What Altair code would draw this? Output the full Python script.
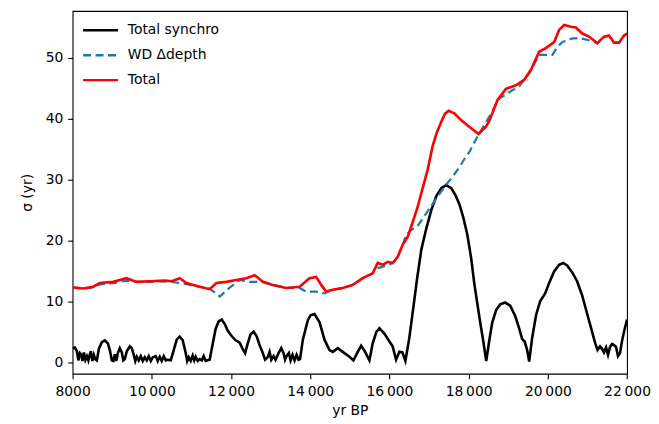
import altair as alt
import pandas as pd

# ---- data (yr BP, sigma in yr) ----
total_synchro = [
    (8000, 2.3), (8058, 2.4), (8108, 1.8), (8146, 0.3), (8184, 1.5), (8222, 1.2), (8247, 0.2),
    (8285, 1.6), (8323, 0.4), (8361, 1.0), (8398, 0.3), (8436, 1.3), (8461, 1.8), (8499, 0.2),
    (8537, 1.2), (8575, 0.5), (8613, 0.3), (8663, 2.2), (8739, 3.3), (8814, 3.6), (8890, 3.1),
    (8940, 2.0), (8991, 0.3), (9029, 0.2), (9066, 1.3), (9104, 0.2), (9142, 1.5), (9192, 2.3),
    (9243, 1.6), (9281, 0.3), (9318, 0.5), (9369, 1.8), (9444, 2.6), (9495, 2.3), (9545, 1.2),
    (9583, 0.2), (9621, 0.9), (9671, 0.3), (9722, 1.0), (9772, 0.2), (9823, 0.8), (9873, 0.3),
    (9924, 1.0), (9974, 0.2), (10024, 0.8), (10100, 1.0), (10150, 0.2), (10201, 0.9), (10251, 0.2),
    (10302, 1.0), (10352, 0.3), (10402, 0.4), (10478, 0.3), (10554, 2.0), (10629, 3.7), (10705, 4.2),
    (10781, 3.6), (10856, 1.5), (10894, 0.2), (10932, 0.8), (10982, 0.2), (11033, 1.1), (11071, 0.3),
    (11108, 0.9), (11159, 0.2), (11209, 0.5), (11260, 0.3), (11310, 1.0), (11360, 0.2), (11411, 0.3),
    (11461, 0.4), (11537, 3.0), (11613, 5.5), (11688, 6.7), (11764, 7.0), (11840, 6.3), (11915, 5.2),
    (12016, 4.3), (12117, 3.6), (12218, 3.2), (12294, 2.2), (12356, 1.5), (12419, 3.0), (12495, 4.6),
    (12571, 5.0), (12646, 4.3), (12722, 2.8), (12797, 1.6), (12860, 0.4), (12924, 0.8), (12974, 1.7),
    (13017, 0.4), (13075, 1.0), (13125, 0.4), (13201, 1.5), (13269, 2.3), (13327, 1.5), (13365, 0.4),
    (13403, 1.0), (13461, 1.5), (13504, 0.3), (13554, 1.2), (13605, 0.3), (13655, 1.2), (13705, 0.4),
    (13743, 0.5), (13814, 3.7), (13940, 6.9), (14008, 7.7), (14108, 7.9), (14234, 6.6), (14360, 3.7),
    (14487, 2.0), (14570, 1.7), (14696, 2.3), (14822, 1.7), (14991, 0.9), (15092, 0.3), (15200, 1.7),
    (15286, 2.7), (15369, 1.9), (15495, 0.3), (15578, 3.1), (15671, 5.0), (15747, 5.6), (15873, 4.7),
    (15999, 3.4), (16082, 2.6), (16168, 0.4), (16251, 1.7), (16327, 1.6), (16403, 0.2), (16503, 4.0),
    (16604, 9.0), (16705, 14.0), (16806, 18.5), (16932, 22.0), (17058, 25.0), (17184, 27.3),
    (17310, 28.6), (17436, 29.1), (17562, 28.6), (17663, 27.5), (17764, 26.0), (17865, 23.8),
    (17966, 21.0), (18066, 17.0), (18142, 13.0), (18218, 9.7), (18293, 6.5), (18369, 3.5),
    (18445, 0.2), (18520, 3.5), (18596, 6.5), (18697, 8.6), (18798, 9.5), (18924, 9.8), (19050, 9.3),
    (19176, 7.6), (19277, 5.5), (19352, 3.8), (19415, 3.4), (19478, 2.0), (19529, 0.1), (19604, 4.0),
    (19705, 7.8), (19806, 10.0), (19932, 11.3), (20033, 13.0), (20159, 14.9), (20285, 16.0),
    (20386, 16.3), (20487, 15.9), (20613, 14.8), (20739, 13.3), (20865, 11.0), (20991, 8.0),
    (21092, 5.6), (21192, 3.2), (21255, 2.0), (21318, 2.6), (21369, 2.2), (21419, 1.6), (21470, 2.4),
    (21520, 1.2), (21571, 2.5), (21621, 3.0), (21672, 2.8), (21722, 2.5), (21772, 1.0), (21823, 1.5),
    (21873, 3.5), (21924, 5.0), (22000, 7.0),
]

wd_ddepth = [
    (8000, 12.2), (8267, 12.1), (8519, 12.3), (8688, 12.8), (9024, 13.0), (9192, 13.2), (9361, 13.4),
    (9613, 13.2), (9949, 13.2), (10327, 13.3), (10503, 13.2), (10705, 13.0), (10874, 12.8),
    (11209, 12.4), (11461, 12.1), (11718, 10.8), (11958, 12.2), (12218, 13.5), (12470, 13.2),
    (12805, 13.2), (13057, 12.7), (13395, 12.2), (13731, 12.2), (13899, 11.6), (14151, 11.6),
    (14360, 11.3), (14570, 11.9), (14822, 12.2), (15074, 12.7), (15326, 13.8), (15578, 14.6),
    (15662, 15.4), (15830, 15.7), (15999, 16.0), (16125, 16.5), (16209, 17.3), (16334, 19.3),
    (16430, 21.0), (16547, 21.7), (16713, 22.4), (16839, 23.6), (16965, 24.8), (17091, 26.0),
    (17260, 27.6), (17436, 29.2), (17562, 30.2), (17764, 32.0), (17932, 33.8), (18016, 34.5),
    (18250, 37.4), (18520, 40.3), (18772, 43.3), (19109, 44.7), (19277, 45.3), (19529, 47.5),
    (19780, 50.5), (20116, 50.5), (20242, 51.8), (20368, 52.6), (20620, 53.2), (20830, 53.2),
    (21041, 52.9), (21250, 52.4), (21419, 53.4), (21545, 53.6), (21672, 52.5), (21798, 52.5),
    (21924, 53.6), (22000, 54.0),
]

total = [
    (8000, 12.3), (8267, 12.1), (8519, 12.4), (8688, 13.0), (9024, 13.2), (9192, 13.5), (9361, 13.8),
    (9613, 13.2), (9949, 13.3), (10327, 13.4), (10503, 13.3), (10705, 13.8), (10874, 13.0),
    (11209, 12.4), (11461, 12.0), (11630, 13.0), (11882, 13.2), (12134, 13.5), (12386, 13.8),
    (12596, 14.3), (12805, 13.2), (13057, 12.7), (13395, 12.2), (13731, 12.4), (13982, 13.8),
    (14151, 14.0), (14277, 12.7), (14403, 11.6), (14570, 11.9), (14822, 12.2), (15074, 12.7),
    (15326, 13.8), (15578, 14.6), (15704, 16.3), (15830, 16.0), (15956, 16.5), (16082, 16.3),
    (16209, 17.3), (16334, 19.3), (16461, 20.6), (16587, 23.0), (16713, 25.5), (16839, 28.6),
    (16965, 31.6), (17091, 35.5), (17200, 37.8), (17303, 39.4), (17400, 40.8), (17494, 41.3),
    (17638, 40.9), (17807, 39.8), (18016, 38.7), (18250, 37.5), (18437, 38.7), (18520, 39.6),
    (18730, 43.1), (18941, 44.9), (19193, 45.5), (19403, 46.4), (19571, 48.0), (19780, 51.0),
    (19949, 51.6), (20159, 52.6), (20285, 54.6), (20411, 55.4), (20580, 55.1), (20706, 55.0),
    (20872, 54.0), (21041, 53.5), (21250, 52.4), (21419, 53.5), (21545, 53.7), (21672, 52.5),
    (21798, 52.5), (21924, 53.7), (22000, 54.0),
]

legend_labels = ["Total synchro", "WD \u0394depth", "Total"]
legend_colors = ["black", "#1f77b4", "red"]
legend_dashes = [[1, 0], [8, 4.5], [1, 0]]
legend_widths = [2.6, 2.2, 2.6]
x_ticks = [8000, 10000, 12000, 14000, 16000, 18000, 20000, 22000]
y_ticks = [0, 10, 20, 30, 40, 50]

FONT = "DejaVu Sans"
FS = 13.9


def frame(rows):
    return pd.DataFrame(rows, columns=["yr", "sigma"])


x_scale = alt.Scale(domain=[8000, 22000], nice=False, zero=False)
y_scale = alt.Scale(domain=[-1.9, 57.7], nice=False, zero=False)

x_axis = alt.Axis(
    values=x_ticks,
    labelExpr="datum.value >= 10000 ? replace(format(datum.value, ','), ',', '\u2009') : format(datum.value, 'd')",
    title="yr BP",
    labelFlush=False,
    labelOverlap=False,
    labelPadding=6,
    titlePadding=5,
)
y_axis = alt.Axis(values=y_ticks, title="\u03c3 (yr)", labelPadding=4.9, titlePadding=11,
                  labelFlush=False, labelOverlap=False)


def series(rows, color, width, dash=None):
    kw = dict(color=color, strokeWidth=width, clip=True)
    if dash is not None:
        kw["strokeDash"] = dash
    return alt.Chart(frame(rows)).mark_line(**kw).encode(
        x=alt.X("yr:Q", scale=x_scale, axis=x_axis),
        y=alt.Y("sigma:Q", scale=y_scale, axis=y_axis),
    )


data_layers = alt.layer(
    series(total_synchro, "black", 2.6),
    series(wd_ddepth, "#1f77b4", 2.2, legend_dashes[1]),
    series(total, "red", 2.6),
)

leg_df = pd.DataFrame({"label": legend_labels})
leg_y = alt.Y(
    "label:N",
    scale=alt.Scale(type="point", domain=legend_labels, range=[19.3, 69.3], padding=0),
    axis=None,
)
leg_rule = alt.Chart(leg_df).mark_rule().encode(
    x=alt.value(10.5),
    x2=alt.value(45.5),
    y=leg_y,
    color=alt.Color("label:N", scale=alt.Scale(domain=legend_labels, range=legend_colors), legend=None),
    strokeDash=alt.StrokeDash("label:N", scale=alt.Scale(domain=legend_labels, range=legend_dashes), legend=None),
    strokeWidth=alt.StrokeWidth("label:N", scale=alt.Scale(domain=legend_labels, range=legend_widths), legend=None),
)
leg_text = alt.Chart(leg_df).mark_text(
    align="left", baseline="middle", font=FONT, fontSize=FS, color="black"
).encode(x=alt.value(55.3), y=leg_y, text="label:N")

legend_layers = alt.layer(leg_rule, leg_text)

chart = (
    alt.layer(data_layers, legend_layers)
    .resolve_scale(y="independent")
    .properties(
        width=555.3,
        height=363.3,
        padding={"left": 64.7, "top": 2.7, "right": 24, "bottom": 48},
        autosize=alt.AutoSizeParams(type="none"),
        background="white",
    )
    .configure_view(stroke="black", strokeWidth=1.1)
    .configure_axis(
        domain=False,
        grid=False,
        tickColor="black",
        tickWidth=1.1,
        tickSize=4.9,
        labelFont=FONT,
        labelFontSize=FS,
        labelColor="black",
        titleFont=FONT,
        titleFontSize=FS,
        titleFontWeight="normal",
        titleColor="black",
    )
)

chart.save("out.html", embed_options={"renderer": "svg", "actions": False})
